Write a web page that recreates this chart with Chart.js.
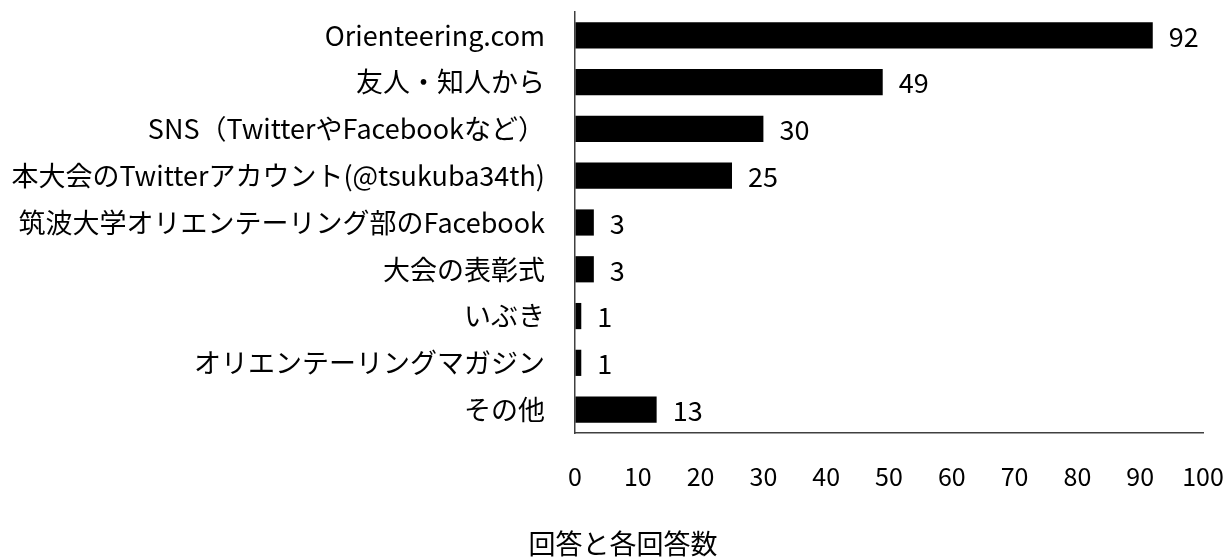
<!DOCTYPE html>
<html>
<head>
<meta charset="utf-8">
<script src="https://cdn.jsdelivr.net/npm/chart.js@4"></script>
<style>
  html, body { margin: 0; padding: 0; background: #fff; }
  #wrap { width: 1229px; height: 559px; }
</style>
</head>
<body>
<div id="wrap"><canvas id="myChart" width="1229" height="559"></canvas></div>
<script>
const categorias = [
  "Orienteering.com",
  "友人・知人から",
  "SNS（TwitterやFacebookなど）",
  "本大会のTwitterアカウント(@tsukuba34th)",
  "筑波大学オリエンテーリング部のFacebook",
  "大会の表彰式",
  "いぶき",
  "オリエンテーリングマガジン",
  "その他"
]
const valores = [92, 49, 30, 25, 3, 3, 1, 1, 13]
const tituloX = "回答と各回答数"
const fuente = "'Noto Sans CJK JP', 'Noto Sans', sans-serif"

// etiquetas de valor a la derecha de cada barra + titulo de abajo
const etiquetasBarras = {
  id: "etiquetasBarras",
  afterDatasetsDraw(chart) {
    const ctx = chart.ctx
    const meta = chart.getDatasetMeta(0)
    ctx.save()
    ctx.font = "27px " + fuente
    ctx.fillStyle = "#000"
    ctx.textAlign = "left"
    ctx.textBaseline = "middle"
    meta.data.forEach((bar, i) => {
      ctx.fillText(String(valores[i]), bar.x + 16, bar.y + 1)
    })
    ctx.textAlign = "center"
    ctx.fillText(tituloX, 623, 544)
    ctx.restore()
  }
}

const ctx = document.getElementById("myChart").getContext("2d")
window.myChart = new Chart(ctx, {
  type: "bar",
  data: {
    labels: categorias,
    datasets: [{
      data: valores,
      backgroundColor: "#000",
      borderWidth: 0,
      categoryPercentage: 0.56,
      barPercentage: 1
    }]
  },
  plugins: [etiquetasBarras],
  options: {
    indexAxis: "y",
    responsive: false,
    animation: false,
    layout: { padding: { top: 12, right: 26, left: 0, bottom: 0 } },
    plugins: {
      legend: { display: false },
      tooltip: { enabled: false }
    },
    scales: {
      x: {
        min: 0,
        max: 100,
        ticks: {
          stepSize: 10,
          color: "#000",
          padding: 28,
          font: { family: fuente, size: 25 }
        },
        grid: { display: true, drawOnChartArea: false, drawTicks: false },
        border: { display: true, color: "#404040", width: 1.5 },
        afterFit(scale) {
          scale.height = 126
          scale.paddingLeft = 0
          scale.paddingRight = 0
        }
      },
      y: {
        ticks: {
          color: "#000",
          padding: 30,
          autoSkip: false,
          font: { family: fuente, size: 27 }
        },
        grid: { display: true, drawOnChartArea: false, drawTicks: false },
        border: { display: true, color: "#404040", width: 1.5 },
        afterFit(scale) {
          scale.width = 575
          scale.paddingTop = 0
          scale.paddingBottom = 0
        }
      }
    }
  }
})
</script>
</body>
</html>
